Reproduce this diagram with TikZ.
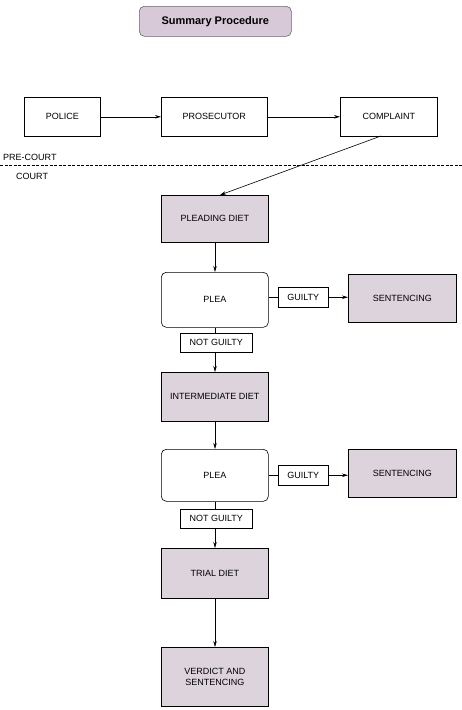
\documentclass[tikz,border=0pt]{standalone}
\usepackage{fontspec}
\setmainfont{Liberation Sans}
\usetikzlibrary{arrows.meta}
\definecolor{boxfill}{HTML}{DDD3DD}
\definecolor{titlefill}{HTML}{D8C9D8}
\tikzset{
  every node/.style={font=\fontsize{9}{10.5}\selectfont},
  plain/.style={draw, line width=0.6pt, inner sep=0pt, anchor=north west},
  shaded/.style={plain, fill=boxfill},
  rbox/.style={plain, rounded corners=5pt},
  lbl/.style={plain, line width=0.5pt},
  arr/.style={-{Stealth[length=6pt,width=3.5pt]}, line width=0.6pt},
  ln/.style={line width=0.6pt},
}
\begin{document}
\begin{tikzpicture}[x=1pt,y=-1pt]
\useasboundingbox (0,0) rectangle (462,710);
% title
\node[draw=gray!80!black, line width=0.6pt, fill=titlefill, rounded corners=5pt, minimum width=152pt, minimum height=30pt, inner sep=0pt, anchor=north west, font=\fontsize{11}{13}\selectfont\bfseries] (title) at (139,6) {Summary Procedure};
% pre-court
\node[plain, minimum width=76pt, minimum height=39pt] (police) at (24,97) {POLICE};
\node[plain, minimum width=106pt, minimum height=39pt] (pros) at (161,97) {PROSECUTOR};
\node[plain, minimum width=97pt, minimum height=39pt] (compl) at (340,97) {COMPLAINT};
\draw[arr] (police) -- (pros);
\draw[arr] (pros) -- (compl);
\node[anchor=west, inner sep=0pt] (pre) at (3,157) {PRE-COURT};
\coordinate (dl) at (0,165);
\coordinate (dr) at (462,165);
\draw[dashed, dash pattern=on 3pt off 1.5pt, line width=0.5pt] (dl) -- (dr);
\node[anchor=west, inner sep=0pt] (court) at (16,176) {COURT};
% court
\node[shaded, minimum width=107pt, minimum height=47pt] (plead) at (161,195) {PLEADING DIET};
\coordinate (pleadin) at (220,195);
\coordinate (complout) at (381,136);
\draw[arr] (complout) -- (pleadin);
\node[rbox, minimum width=107pt, minimum height=55pt] (plea1) at (161,272) {PLEA};
\draw[arr] (plead.south -| 215,0) -- (plea1.north -| 215,0);
\node[lbl, minimum width=50pt, minimum height=20pt] (g1) at (278,287) {GUILTY};
\node[shaded, minimum width=108pt, minimum height=48pt] (sent1) at (348,274) {SENTENCING};
\draw[ln] (plea1.east |- g1) -- (g1.west);
\draw[arr] (g1.east) -- (g1.east -| sent1.west);
\node[lbl, minimum width=72pt, minimum height=19pt] (ng1) at (180,333) {NOT GUILTY};
\node[shaded, minimum width=107pt, minimum height=49pt] (inter) at (161,372) {INTERMEDIATE DIET};
\draw[ln] (plea1.south -| 215,0) -- (ng1.north -| 215,0);
\draw[arr] (ng1.south -| 215,0) -- (inter.north -| 215,0);
\node[rbox, minimum width=107pt, minimum height=52pt] (plea2) at (161,449) {PLEA};
\draw[arr] (inter.south -| 215,0) -- (plea2.north -| 215,0);
\node[lbl, minimum width=50pt, minimum height=20pt] (g2) at (278,465) {GUILTY};
\node[shaded, minimum width=108pt, minimum height=48pt] (sent2) at (348,449) {SENTENCING};
\draw[ln] (plea2.east |- g2) -- (g2.west);
\draw[arr] (g2.east) -- (g2.east -| sent2.west);
\node[lbl, minimum width=72pt, minimum height=19pt] (ng2) at (180,509) {NOT GUILTY};
\node[shaded, minimum width=107pt, minimum height=50pt] (trial) at (161,548) {TRIAL DIET};
\draw[ln] (plea2.south -| 215,0) -- (ng2.north -| 215,0);
\draw[arr] (ng2.south -| 215,0) -- (trial.north -| 215,0);
\node[shaded, minimum width=107pt, minimum height=59pt, align=center] (verdict) at (161,647) {VERDICT AND\\SENTENCING};
\draw[arr] (trial.south -| 215,0) -- (verdict.north -| 215,0);
\end{tikzpicture}
\end{document}
